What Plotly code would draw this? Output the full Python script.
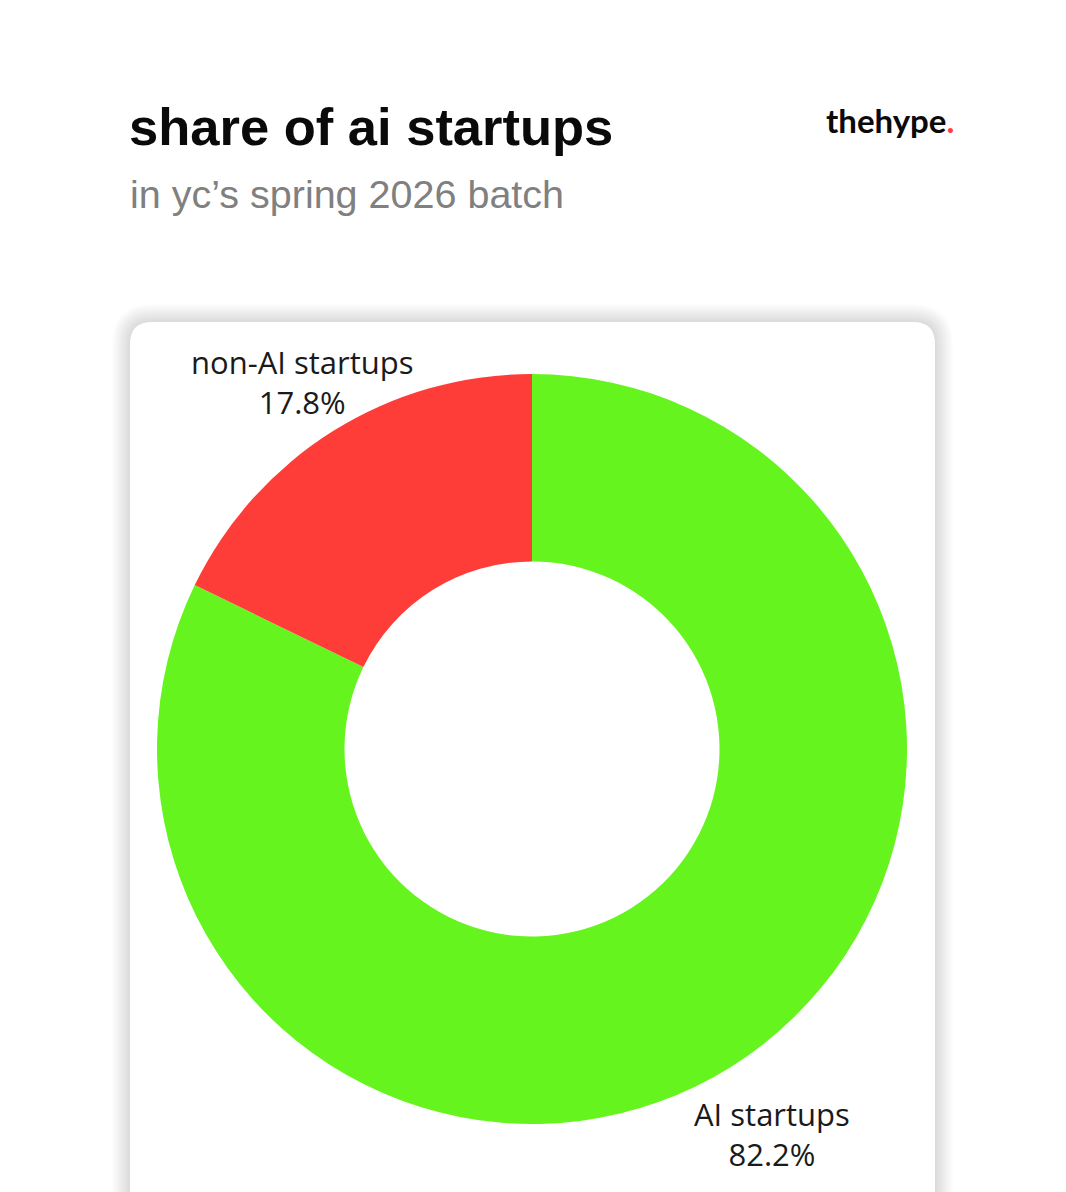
import math
import plotly.graph_objects as go

W, H = 1066, 1192

# ---- data ----
categories = ["non-AI startups", "AI startups"]
shares = [17.8, 82.2]
colors = ["#ff3d38", "#66f41e"]

title_text = "share of ai startups"
subtitle_text = "in yc\u2019s spring 2026 batch"
logo_text = "thehype"

# ---- layout constants (pixels) ----
CX, CY, R_OUT = 532, 749, 375
LABEL_R = 443
LABEL_DX, LABEL_DY = 5, 9


def px(x):
    return x / W


def py(y):
    return 1 - y / H


def rounded_rect(x0, y0, x1, y1, r):
    rx, ry = r / W, r / H
    X0, X1 = px(x0), px(x1)
    Y0, Y1 = py(y0), py(y1)
    return (
        f"M {X0 + rx},{Y0} L {X1 - rx},{Y0} Q {X1},{Y0} {X1},{Y0 - ry} "
        f"L {X1},{Y1 + ry} Q {X1},{Y1} {X1 - rx},{Y1} "
        f"L {X0 + rx},{Y1} Q {X0},{Y1} {X0},{Y1 + ry} "
        f"L {X0},{Y0 - ry} Q {X0},{Y0} {X0 + rx},{Y0} Z"
    )


fig = go.Figure()

# slices follow one another counterclockwise from 12 o'clock: drawing the
# reversed order clockwise from 12 o'clock gives exactly that arrangement
fig.add_trace(
    go.Pie(
        labels=categories[::-1],
        values=shares[::-1],
        hole=0.5,
        sort=False,
        direction="clockwise",
        rotation=0,
        marker=dict(colors=colors[::-1], line=dict(width=0)),
        textinfo="none",
        hoverinfo="skip",
        showlegend=False,
        domain=dict(x=[px(CX - R_OUT), px(CX + R_OUT)], y=[py(CY + R_OUT), py(CY - R_OUT)]),
    )
)

shapes = []
card = (130, 322, 935, 1260, 22)
for i in range(18, 0, -1):
    shapes.append(
        dict(
            type="path", xref="paper", yref="paper",
            path=rounded_rect(card[0] - i, card[1] - i, card[2] + i, card[3] + i, card[4] + i),
            fillcolor="rgba(0,0,0,0.0065)", line=dict(width=0), layer="below",
        )
    )
shapes.append(
    dict(
        type="path", xref="paper", yref="paper",
        path=rounded_rect(*card),
        fillcolor="#ffffff", line=dict(width=0), layer="below",
    )
)

annotations = [
    dict(
        text=f"<b>{title_text}</b>",
        x=px(127), y=py(126), xref="paper", yref="paper",
        xanchor="left", yanchor="middle", showarrow=False,
        font=dict(family="Liberation Sans", size=52.5, color="#0a0a0a"),
    ),
    dict(
        text=subtitle_text,
        x=px(128), y=py(194), xref="paper", yref="paper",
        xanchor="left", yanchor="middle", showarrow=False,
        font=dict(family="Liberation Sans", size=39.5, color="#808080"),
    ),
    dict(
        text=f"<b>{logo_text}</b><span style='color:#ff3d3d'><b>.</b></span>",
        x=px(956), y=py(120), xref="paper", yref="paper",
        xanchor="right", yanchor="middle", showarrow=False,
        font=dict(family="Lato", size=33, color="#0a0a0a"),
    ),
]

# slice labels placed radially at each slice's mid-angle (counterclockwise from 12 o'clock)
total = sum(shares)
cum = 0.0
for lab, val in zip(categories, shares):
    mid = (cum + val / 2) / total * 2 * math.pi
    cum += val
    lx = CX - LABEL_R * math.sin(mid) + LABEL_DX
    ly = CY - LABEL_R * math.cos(mid) + LABEL_DY
    annotations.append(
        dict(
            text=f"{lab}<br>{val / total * 100:.1f}%",
            x=px(lx), y=py(ly), xref="paper", yref="paper",
            xanchor="center", yanchor="middle", showarrow=False,
            font=dict(family="Open Sans", size=31, color="#1a1a1a"),
        )
    )

fig.update_layout(
    width=W,
    height=H,
    margin=dict(l=0, r=0, t=0, b=0),
    paper_bgcolor="#ffffff",
    plot_bgcolor="#ffffff",
    shapes=shapes,
    annotations=annotations,
)

fig.write_html(
    "out.html",
    config={"displayModeBar": False},
    post_script="document.body.style.margin='0';",
)
